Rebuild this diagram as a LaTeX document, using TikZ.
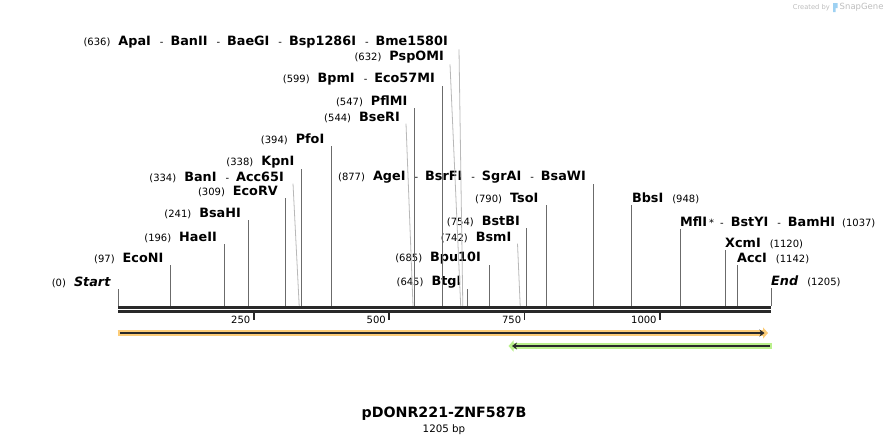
\documentclass[tikz,border=0pt]{standalone}
\usepackage{fontspec}
\setmainfont{DejaVu Sans}
\usepackage{tikz}
\usetikzlibrary{arrows.meta, positioning}
\definecolor{cutgray}{rgb}{0.42,0.42,0.42}
\definecolor{slantgray}{rgb}{0.72,0.72,0.72}
\definecolor{darkline}{rgb}{0.16,0.16,0.16}
\definecolor{orfcolour}{rgb}{0.99,0.80,0.47}
\definecolor{primercolour}{rgb}{0.73,0.94,0.55}
\definecolor{markgray}{rgb}{0.74,0.74,0.74}
\definecolor{markblue}{rgb}{0.62,0.82,0.95}
\newcommand{\numfont}{\mdseries\fontsize{10}{11}\selectfont}
\newcommand{\bpos}[1]{{\numfont(#1)}\hspace{8pt}}
\newcommand{\apos}[1]{\hspace{9pt}{\numfont(#1)}}
\newcommand{\also}{\hspace{9pt}{\numfont-}\hspace{7pt}}
\tikzstyle{site} = [inner sep=1pt, font=\bfseries\fontsize{12.8}{13}\selectfont]
\tikzstyle{leftsite} = [site, anchor=east]
\tikzstyle{rightsite} = [site, anchor=west]
\tikzstyle{cut} = [cutgray, line width=0.8pt]
\tikzstyle{slant} = [slantgray, line width=0.8pt]
\tikzstyle{backbone} = [darkline, line width=2.6pt]
\tikzstyle{tick} = [darkline, line width=1.8pt]
\tikzstyle{ticklabel} = [inner sep=1pt, anchor=east, font=\fontsize{10}{11}\selectfont]

\begin{document}
\begin{tikzpicture}[x=1pt, y=-1pt]
	\useasboundingbox (0,0) rectangle (890,445);
	% sites on the sequence
	\coordinate (s0) at (118.3,306);
	\coordinate (s97) at (170.8,306);
	\coordinate (s196) at (224.5,306);
	\coordinate (s241) at (248.8,306);
	\coordinate (s309) at (285.7,306);
	\coordinate (s334) at (299.2,306);
	\coordinate (s338) at (301.4,306);
	\coordinate (s394) at (331.7,306);
	\coordinate (s544) at (413.0,306);
	\coordinate (s547) at (414.6,306);
	\coordinate (s599) at (442.8,306);
	\coordinate (s632) at (460.7,306);
	\coordinate (s636) at (462.8,306);
	\coordinate (s645) at (467.7,306);
	\coordinate (s685) at (489.4,306);
	\coordinate (s742) at (520.2,306);
	\coordinate (s754) at (526.8,306);
	\coordinate (s790) at (546.2,306);
	\coordinate (s877) at (593.4,306);
	\coordinate (s948) at (631.8,306);
	\coordinate (s1037) at (680.0,306);
	\coordinate (s1120) at (725.0,306);
	\coordinate (s1142) at (736.9,306);
	\coordinate (s1205) at (771.0,306);

	% labels left of their site
	\node (start) [leftsite] at (112,282) {\bpos{0}\textit{Start}};
	\node (econi) [leftsite] at (164.5,258) {\bpos{97}EcoNI};
	\node (haeii) [leftsite] at (218,237) {\bpos{196}HaeII};
	\node (bsahi) [leftsite] at (242,213) {\bpos{241}BsaHI};
	\node (ecorv) [leftsite] at (279,191) {\bpos{309}EcoRV};
	\node (bani) [leftsite] at (285,177) {\bpos{334}BanI\also Acc65I};
	\node (kpni) [leftsite] at (295.5,162) {\bpos{338}KpnI};
	\node (pfoi) [leftsite] at (325.5,139) {\bpos{394}PfoI};
	\node (bseri) [leftsite] at (401,117) {\bpos{544}BseRI};
	\node (pflmi) [leftsite] at (408.5,101) {\bpos{547}PflMI};
	\node (bpmi) [leftsite] at (436,79) {\bpos{599}BpmI\also Eco57MI};
	\node (pspomi) [leftsite] at (445,57) {\bpos{632}PspOMI};
	\node (apai) [leftsite] at (449,42) {\bpos{636}ApaI\also BanII\also BaeGI\also Bsp1286I\also Bme1580I};
	\node (btgi) [leftsite] at (462.5,282) {\bpos{645}BtgI};
	\node (bpu) [leftsite] at (482,258) {\bpos{685}Bpu10I};
	\node (bsmi) [leftsite] at (512.5,237) {\bpos{742}BsmI};
	\node (bstbi) [leftsite] at (521,221) {\bpos{754}BstBI};
	\node (tsoi) [leftsite] at (539.5,198) {\bpos{790}TsoI};
	\node (agei) [leftsite] at (587,177) {\bpos{877}AgeI\also BsrFI\also SgrAI\also BsaWI};
	% labels right of their site
	\node (bbsi) [rightsite] at (630.8,198) {BbsI\apos{948}};
	\node (mfli) [rightsite] at (679,222) {MflI\hspace{2pt}{\numfont*}\hspace{6pt}{\numfont-}\hspace{7pt}BstYI\also BamHI\hspace{7pt}{\numfont(1037)}};
	\node (xcmi) [rightsite] at (724,243) {XcmI\apos{1120}};
	\node (acci) [rightsite] at (735.9,258) {AccI\apos{1142}};
	\node (end) [rightsite] at (770,281) {\textit{End}\apos{1205}};

	% cut lines
	\draw [cut] (s0) -- (s0 |- start.south);
	\draw [cut] (s97) -- (s97 |- econi.south);
	\draw [cut] (s196) -- (s196 |- haeii.south);
	\draw [cut] (s241) -- (s241 |- bsahi.south);
	\draw [cut] (s309) -- (s309 |- ecorv.south);
	\draw [slant] (s334) -- ([xshift=8pt]bani.south east);
	\draw [cut] (s338) -- (s338 |- kpni.south);
	\draw [cut] (s394) -- (s394 |- pfoi.south);
	\draw [slant] (s544) -- ([xshift=5pt]bseri.south east);
	\draw [cut] (s547) -- (s547 |- pflmi.south);
	\draw [cut] (s599) -- (s599 |- bpmi.south);
	\draw [slant] (s632) -- ([xshift=5pt]pspomi.south east);
	\draw [slant] (s636) -- ([xshift=10pt]apai.south east);
	\draw [cut] (s645) -- (s645 |- btgi.south);
	\draw [cut] (s685) -- (s685 |- bpu.south);
	\draw [slant] (s742) -- ([xshift=5pt]bsmi.south east);
	\draw [cut] (s754) -- (s754 |- bstbi.south);
	\draw [cut] (s790) -- (s790 |- tsoi.south);
	\draw [cut] (s877) -- (s877 |- agei.south);
	\draw [cut] (s948) -- (s948 |- bbsi.south);
	\draw [cut] (s1037) -- (s1037 |- mfli.south);
	\draw [cut] (s1120) -- (s1120 |- xcmi.south);
	\draw [cut] (s1142) -- (s1142 |- acci.south);
	\draw [cut] (s1205) -- (s1205 |- end.south);

	% sequence and ruler
	\draw [backbone] ([yshift=-1.4pt]s0) -- ([yshift=-1.4pt]s1205);
	\draw [backbone] ([yshift=-5.6pt]s0) -- ([yshift=-5.6pt]s1205);
	\foreach \t in {250,500,750,1000} {
		\draw [tick] ({118.3+\t*0.5417},313) -- ++(0,7);
		\node [ticklabel] at ({118.3+\t*0.5417-2.2},320) {\t};
	}

	% features
	\draw [orfcolour, line width=6pt, -{Triangle[length=5pt, width=11pt]}] (117.7,333) -- (768,333);
	\draw [darkline, line width=1.8pt, -{Stealth[length=5pt, width=7pt]}] (120,333) -- (764.5,333);
	\draw [primercolour, line width=6pt, -{Triangle[length=5pt, width=11pt]}] (771.7,346) -- (508.5,346);
	\draw [darkline, line width=1.8pt, -{Stealth[length=5pt, width=7pt]}] (770,346) -- (512,346);

	% name
	\node (title) [inner sep=0pt, font=\bfseries\fontsize{14.2}{15}\selectfont] at (444,414) {pDONR221-ZNF587B};
	\node (size) [inner sep=0pt, font=\fontsize{10.3}{11}\selectfont, below=4pt of title.south] {1205 bp};

	% watermark
	\node (created) [inner sep=0pt, anchor=east, text=markgray, font=\fontsize{6.7}{7}\selectfont] at (830,7.5) {Created by};
	\fill [markblue] (833,3) rectangle (835.5,12) (835.5,3) rectangle (837.5,8);
	\node (snapgene) [inner sep=0pt, anchor=west, text=markgray, font=\fontsize{8.5}{9}\selectfont] at (839.5,7.5) {SnapGene};
\end{tikzpicture}
\end{document}
